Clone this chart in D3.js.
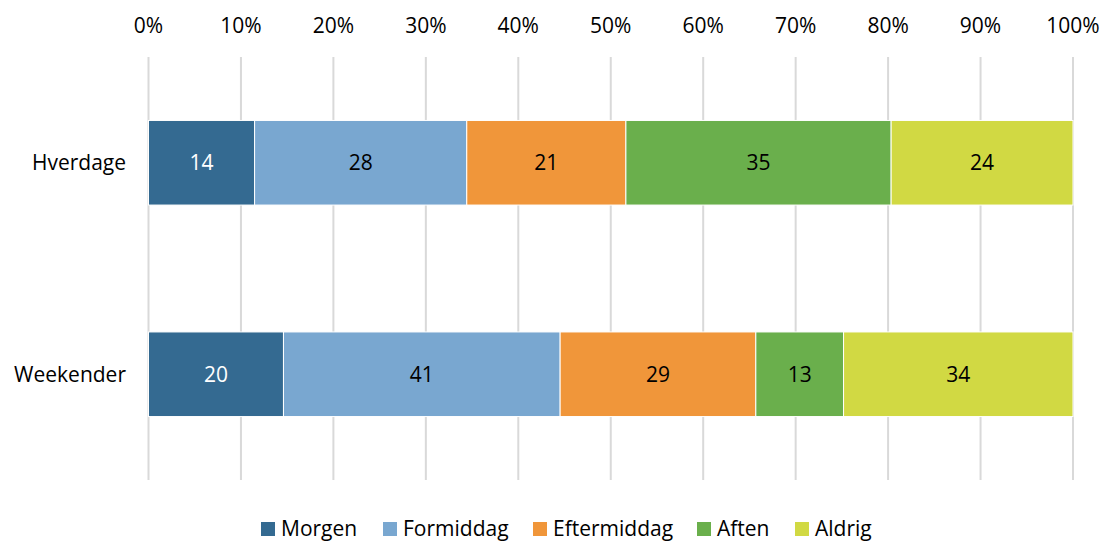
<!DOCTYPE html>
<html>
<head>
<meta charset="utf-8">
<script src="https://cdn.jsdelivr.net/npm/d3@7"></script>
<style>
  body { margin: 0; background: #fff; }
  svg text { font-family: "Open Sans", Lato, sans-serif; }
</style>
</head>
<body>
<svg id="chart" width="1102" height="543"></svg>
<script>
// chart data
const categories = ["Hverdage", "Weekender"];
const series = ["Morgen", "Formiddag", "Eftermiddag", "Aften", "Aldrig"];
const hverdage = [14, 28, 21, 35, 24];
const weekender = [20, 41, 29, 13, 34];
const tickValues = [0, 0.1, 0.2, 0.3, 0.4, 0.5, 0.6, 0.7, 0.8, 0.9, 1];
const colours = ["#346a91", "#79a7d0", "#f0963a", "#6aaf4c", "#d1d943"];
const labelColours = ["#fff", "#000", "#000", "#000", "#000"];

const svg = d3.select("#chart");
const margin = { left: 148.5, right: 29, top: 57, bottom: 63 };
const width = 1102, height = 543;
const fontSize = 21;

const x = d3.scaleLinear().domain([0, 1]).range([margin.left, width - margin.right]);
const y = d3.scaleBand().domain(categories).range([margin.top, height - margin.bottom]).paddingInner(0.6).paddingOuter(0.3);

const colour = d3.scaleOrdinal().domain(series).range(colours);

// build rows -> stacked, normalised
const rows = categories.map((c, i) => {
  const vals = i === 0 ? hverdage : weekender;
  const row = { cat: c };
  series.forEach((s, j) => row[s] = vals[j]);
  return row;
});
const stacked = d3.stack().keys(series).offset(d3.stackOffsetExpand)(rows);

// gridlines
svg.append("g")
  .selectAll("line")
  .data(tickValues)
  .join("line")
  .attr("x1", d => x(d)).attr("x2", d => x(d))
  .attr("y1", margin.top).attr("y2", height - margin.bottom)
  .attr("stroke", "#d9d9d9")
  .attr("stroke-width", 2);

// top axis labels
svg.append("g")
  .selectAll("text")
  .data(tickValues)
  .join("text")
  .attr("x", d => x(d))
  .attr("y", 33)
  .attr("text-anchor", "middle")
  .attr("font-size", fontSize)
  .attr("fill", "#000")
  .text(d3.format(".0%"));

// bars
const layers = svg.append("g").selectAll("g")
  .data(stacked)
  .join("g")
  .attr("fill", d => colour(d.key));

layers.selectAll("rect")
  .data(d => d.map(v => ({ key: d.key, v })))
  .join("rect")
  .attr("x", d => x(d.v[0]))
  .attr("width", d => x(d.v[1]) - x(d.v[0]))
  .attr("y", d => y(d.v.data.cat))
  .attr("height", y.bandwidth())
  .attr("stroke", "#fff")
  .attr("stroke-width", 1);

// value labels
layers.selectAll("text")
  .data(d => d.map(v => ({ key: d.key, v })))
  .join("text")
  .attr("x", d => (x(d.v[0]) + x(d.v[1])) / 2)
  .attr("y", d => y(d.v.data.cat) + y.bandwidth() / 2)
  .attr("dy", "0.36em")
  .attr("text-anchor", "middle")
  .attr("font-size", fontSize)
  .attr("fill", d => labelColours[series.indexOf(d.key)])
  .text(d => d.v.data[d.key]);

// category labels
svg.append("g")
  .selectAll("text")
  .data(categories)
  .join("text")
  .attr("x", 126)
  .attr("y", d => y(d) + y.bandwidth() / 2)
  .attr("dy", "0.36em")
  .attr("text-anchor", "end")
  .attr("font-size", fontSize)
  .attr("fill", "#000")
  .text(d => d);

// legend
const legendX = [261, 383, 533, 697, 795];
const legend = svg.append("g").selectAll("g")
  .data(series)
  .join("g")
  .attr("transform", (d, i) => `translate(${legendX[i]}, 522)`);
legend.append("rect")
  .attr("width", 14).attr("height", 14)
  .attr("fill", d => colour(d));
legend.append("text")
  .attr("x", 20).attr("y", 7)
  .attr("dy", "0.33em")
  .attr("font-size", fontSize)
  .attr("fill", "#000")
  .text(d => d);
</script>
</body>
</html>
